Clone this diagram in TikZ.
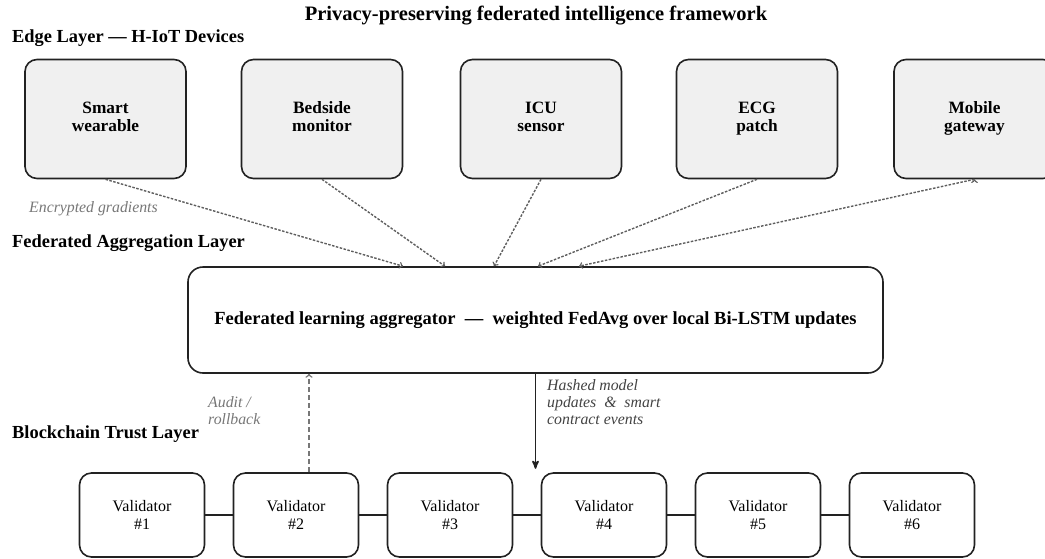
\documentclass[tikz,border=0pt]{standalone}
\usepackage{fontspec}
\setmainfont{Liberation Serif}
\usepackage{xcolor}
\usepackage{tikz}
\usetikzlibrary{arrows}

\definecolor{devfill}{HTML}{F0F0F0}
\definecolor{inkdark}{HTML}{222222}
\definecolor{notegray}{HTML}{777777}
\definecolor{flowgray}{HTML}{5E5E5E}

\tikzset{
  device/.style={draw=inkdark, fill=devfill, line width=1.6pt, rounded corners=12pt,
    minimum width=161pt, minimum height=119pt, align=center,
    font=\fontsize{17.3}{18}\selectfont\bfseries},
  validator/.style={draw=inkdark, line width=1.6pt, rounded corners=12pt,
    minimum width=125pt, minimum height=84pt, align=center,
    font=\fontsize{16}{18}\selectfont},
  layer/.style={anchor=west, inner sep=0pt, font=\fontsize{18.4}{20}\selectfont\bfseries},
  note/.style={anchor=west, inner sep=0pt, align=left, text=notegray,
    font=\fontsize{15.8}{17}\selectfont\itshape},
}

\begin{document}
\begin{tikzpicture}[x=1pt,y=-1pt]
\useasboundingbox (0,0) rectangle (1045,558);

\node (T) at (536,16) {\fontsize{20.5}{22}\selectfont\bfseries Privacy-preserving federated intelligence framework};

% edge layer
\node[layer] (L1) at (12,38) {Edge Layer --- H-IoT Devices};
  \node[device]  (wear) at (105.5,119) {Smart\strut\\wearable\strut};
  \node[device]  (bed)  at (322,119)   {Bedside\strut\\monitor\strut};
  \node[device]  (icu)  at (541,119)   {ICU\strut\\sensor\strut};
  \node[device]  (ecg)  at (757,119)   {ECG\strut\\patch\strut};
  \node[device]  (mob)  at (974.5,119) {Mobile\strut\\gateway\strut};

\node[note] (enc) at (29,209) {Encrypted gradients};

% aggregation layer
\node[layer] (L2) at (12,243) {Federated Aggregation Layer};
  \node[draw=inkdark, line width=1.6pt, rounded corners=15pt, minimum width=695pt,
        minimum height=106pt, font=\fontsize{18.5}{20}\selectfont\bfseries]
        (agg) at (535.5,320) {Federated learning aggregator\ \ ---\ \ weighted FedAvg over local Bi-LSTM updates};

  \path[->,>=to, dashed, dash pattern=on 2.5pt off 1.5pt, draw=flowgray, line width=1.4pt]
        (wear.south) edge ([xshift=-132.5pt]agg.north)
        (bed.south)  edge ([xshift=-90.5pt]agg.north)
        (icu.south)  edge ([xshift=-41.5pt]agg.north)
        (ecg.south)  edge ([xshift=2.5pt]agg.north)
        (mob.south)  edge ([xshift=43.5pt]agg.north);

% blockchain layer
\node[layer] (L3) at (12,434) {Blockchain Trust Layer};
  \node[validator] (V1) at (142,515) {Validator\\\#1};
  \node[validator] (V2) at (296,515) {Validator\\\#2};
  \node[validator] (V3) at (450,515) {Validator\\\#3};
  \node[validator] (V4) at (604,515) {Validator\\\#4};
  \node[validator] (V5) at (758,515) {Validator\\\#5};
  \node[validator] (V6) at (912,515) {Validator\\\#6};

  \path[draw=inkdark, line width=1.5pt]
        (V1) edge (V2)
        (V2) edge (V3)
        (V3) edge (V4)
        (V4) edge (V5)
        (V5) edge (V6);

\coordinate (chain) at ([yshift=-95pt]agg.south);
  \draw[->,>=stealth', draw=inkdark, line width=1.7pt] (agg.south) -- (chain);
  \draw[->,>=to, dashed, dash pattern=on 5pt off 3pt, draw=notegray, line width=1.5pt]
        ([xshift=13pt]V2.north) -- ([xshift=13pt]V2.north |- agg.south);

\node[note] (aud) at (208,411) {Audit /\\rollback};
\node[note, text=inkdark!85] (hash) at (547,402)
      {Hashed model\\updates\ \ \&\ \ smart\\contract events};
\end{tikzpicture}
\end{document}
